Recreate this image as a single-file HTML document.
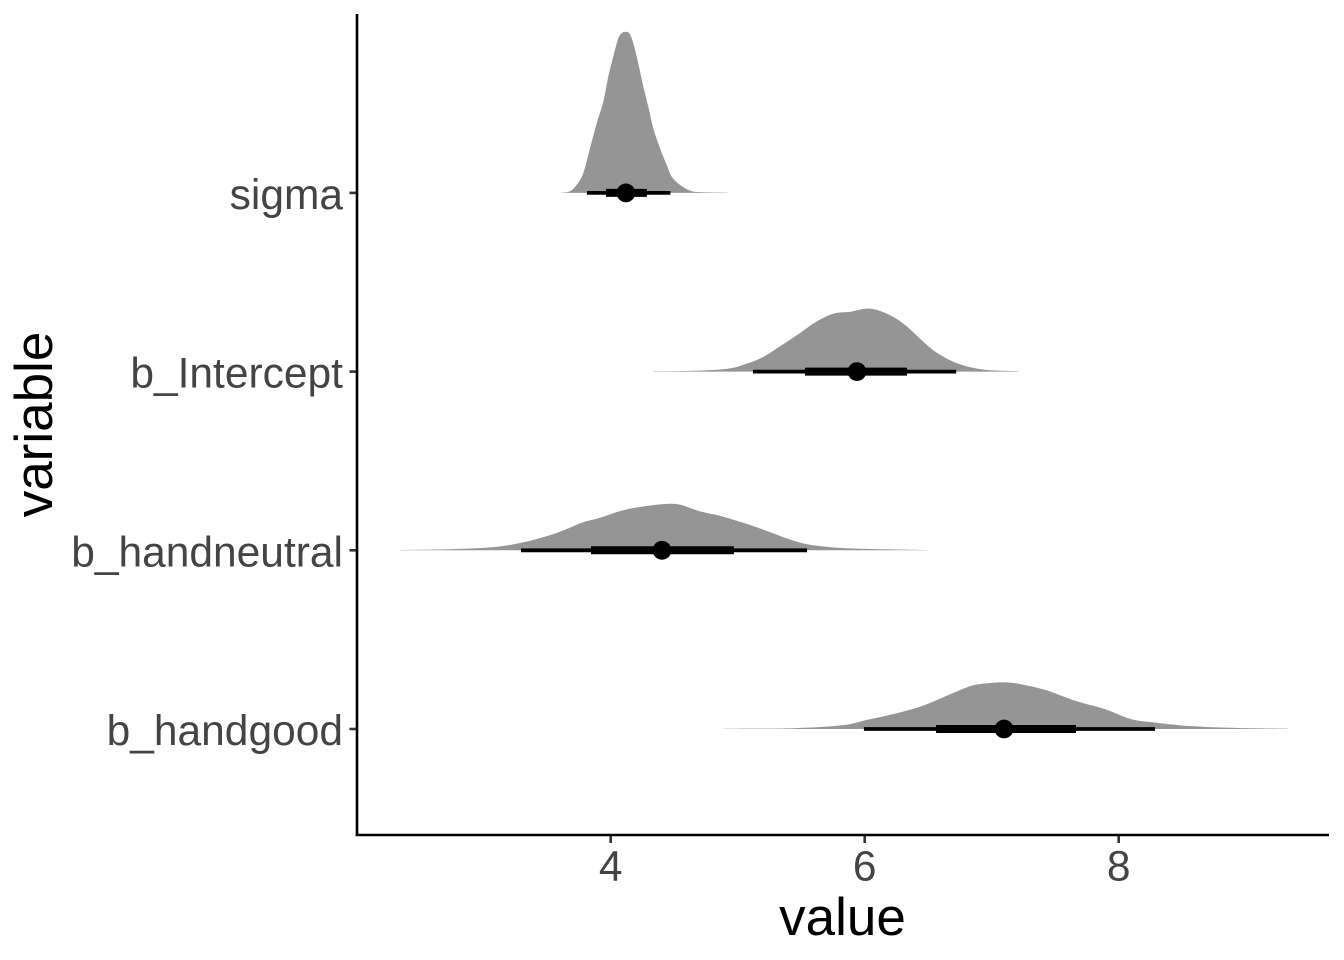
<!DOCTYPE html>
<html lang="en">
<head>
<meta charset="utf-8">
<title>Posterior densities by variable</title>
<style>
  html, body { margin: 0; padding: 0; background: #fff; }
  svg { display: block; font-family: "Liberation Sans", Arial, sans-serif; }
</style>
</head>
<body>
<svg id="chart" xmlns="http://www.w3.org/2000/svg" width="1344" height="960" viewBox="0 0 1344 960">
  <rect x="0" y="0" width="1344" height="960" fill="#ffffff"/>
  <g id="densities"></g>
  <g id="intervals"></g>
  <g id="x-ticks"></g>
  <g id="y-ticks"></g>
  <line x1="357" y1="14" x2="357" y2="836" stroke="#000" stroke-width="2.6"/>
  <line x1="355.7" y1="835" x2="1329" y2="835" stroke="#000" stroke-width="2.6"/>
  <text x="842.5" y="935" font-size="53" text-anchor="middle" fill="#000">value</text>
  <text transform="translate(52 424.5) rotate(-90)" font-size="53" text-anchor="middle" fill="#000">variable</text>
</svg>
<script>
// Categories, bottom to top of the value axis band order
const categories = ["b_handgood", "b_handneutral", "b_Intercept", "sigma"];
const xTickLabels = [4, 6, 8];

// Density curves: grid of values and density height
const handgoodValues = [4.89, 5.443, 5.822, 6.026, 6.259, 6.463, 6.667, 6.842, 6.987, 7.104, 7.22, 7.424, 7.657, 7.89, 8.094, 8.298, 8.589, 8.939, 9.33];
const handgoodDensity = [0.003, 0.008, 0.037, 0.094, 0.16, 0.235, 0.344, 0.432, 0.46, 0.466, 0.45, 0.39, 0.283, 0.2, 0.1, 0.063, 0.027, 0.01, 0.003];

const handneutralValues = [2.34, 2.76, 3.091, 3.312, 3.506, 3.643, 3.782, 3.92, 4.086, 4.251, 4.445, 4.555, 4.694, 4.887, 5.08, 5.246, 5.384, 5.522, 5.687, 5.937, 6.489];
const handneutralDensity = [0.003, 0.012, 0.033, 0.08, 0.146, 0.207, 0.28, 0.327, 0.397, 0.437, 0.464, 0.453, 0.393, 0.336, 0.26, 0.186, 0.12, 0.067, 0.037, 0.017, 0.003];

const interceptValues = [4.335, 4.624, 4.913, 5.071, 5.202, 5.333, 5.465, 5.595, 5.7, 5.78, 5.884, 5.963, 6.042, 6.12, 6.225, 6.33, 6.435, 6.54, 6.646, 6.75, 6.855, 6.987, 7.21];
const interceptDensity = [0.003, 0.007, 0.027, 0.08, 0.147, 0.253, 0.363, 0.48, 0.553, 0.587, 0.597, 0.62, 0.63, 0.607, 0.547, 0.453, 0.33, 0.213, 0.13, 0.073, 0.037, 0.013, 0.003];

const sigmaValues = [3.614, 3.68, 3.732, 3.784, 3.837, 3.89, 3.942, 3.981, 4.02, 4.06, 4.087, 4.113, 4.146, 4.178, 4.217, 4.257, 4.296, 4.335, 4.388, 4.441, 4.48, 4.546, 4.624, 4.703, 4.926];
const sigmaDensity = [0.003, 0.017, 0.08, 0.197, 0.447, 0.697, 0.913, 1.163, 1.363, 1.547, 1.597, 1.61, 1.597, 1.497, 1.297, 1.063, 0.863, 0.647, 0.447, 0.28, 0.163, 0.08, 0.023, 0.008, 0.003];

// Point summaries: median, 66% interval, 95% interval
const medians = [7.097, 4.404, 5.939, 4.12];
const inner66Low = [6.562, 3.845, 5.53, 3.963];
const inner66High = [7.664, 4.97, 6.333, 4.285];
const outer95Low = [5.994, 3.294, 5.12, 3.813];
const outer95High = [8.286, 5.546, 6.72, 4.47];

const curveValues = [handgoodValues, handneutralValues, interceptValues, sigmaValues];
const curveDensity = [handgoodDensity, handneutralDensity, interceptDensity, sigmaDensity];

// Axis functions
function xScale(v) { return 610.7 + (v - 4) * 127; }
function yScale(i) { return 729 - i * 178.7; }
function densityHeight(d) { return d * 100; }

const NS = "http://www.w3.org/2000/svg";
function make(tag, parent, attrs) {
  const el = document.createElementNS(NS, tag);
  for (const k in attrs) el.setAttribute(k, attrs[k]);
  parent.appendChild(el);
  return el;
}

function densityPath(values, density, base) {
  const pts = values.map((v, i) => [xScale(v), base - densityHeight(density[i])]);
  let d = "M" + pts[0][0].toFixed(2) + " " + base + "L" + pts[0][0].toFixed(2) + " " + pts[0][1].toFixed(2);
  for (let i = 0; i < pts.length - 1; i++) {
    const p0 = pts[Math.max(i - 1, 0)], p1 = pts[i], p2 = pts[i + 1], p3 = pts[Math.min(i + 2, pts.length - 1)];
    const c1x = p1[0] + (p2[0] - p0[0]) / 6;
    const c1y = Math.min(base, p1[1] + (p2[1] - p0[1]) / 6);
    const c2x = p2[0] - (p3[0] - p1[0]) / 6;
    const c2y = Math.min(base, p2[1] - (p3[1] - p1[1]) / 6);
    d += "C" + c1x.toFixed(2) + " " + c1y.toFixed(2) + " " + c2x.toFixed(2) + " " + c2y.toFixed(2) + " " + p2[0].toFixed(2) + " " + p2[1].toFixed(2);
  }
  return d + "L" + pts[pts.length - 1][0].toFixed(2) + " " + base + "Z";
}

const densityLayer = document.getElementById("densities");
const intervalLayer = document.getElementById("intervals");
const xTickLayer = document.getElementById("x-ticks");
const yTickLayer = document.getElementById("y-ticks");

categories.forEach((cat, i) => {
  const y = yScale(i);
  const slug = cat.toLowerCase().replace(/_/g, "-");

  const area = make("path", densityLayer, { d: densityPath(curveValues[i], curveDensity[i], y), fill: "#959595" });
  
  

  const outer = make("line", intervalLayer, { x1: xScale(outer95Low[i]), x2: xScale(outer95High[i]), y1: y, y2: y, stroke: "#000", "stroke-width": 3.8 });
  
  

  const inner = make("line", intervalLayer, { x1: xScale(inner66Low[i]), x2: xScale(inner66High[i]), y1: y, y2: y, stroke: "#000", "stroke-width": 8 });
  
  

  const point = make("circle", intervalLayer, { cx: xScale(medians[i]), cy: y, r: 9.4, fill: "#000" });
  
  

  const tick = make("line", yTickLayer, { x1: 349.5, x2: 356, y1: y, y2: y, stroke: "#333", "stroke-width": 2.6 });
  
  

  const label = make("text", yTickLayer, { x: 343, y: y + 16, "text-anchor": "end", "font-size": 42.5, fill: "#444" });
  label.textContent = cat;
  
  
});

xTickLabels.forEach((t) => {
  const x = xScale(t);

  const tick = make("line", xTickLayer, { x1: x, x2: x, y1: 836, y2: 843, stroke: "#333", "stroke-width": 2.6 });
  
  

  const label = make("text", xTickLayer, { x: x, y: 880.5, "text-anchor": "middle", "font-size": 42.5, fill: "#444" });
  label.textContent = t;
  
  
});
</script>
</body>
</html>
